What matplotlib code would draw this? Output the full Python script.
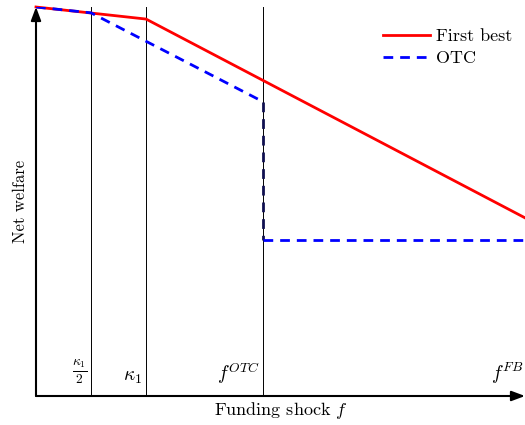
import numpy as np
import matplotlib
matplotlib.use("Agg")
import matplotlib.pyplot as plt

plt.rcParams['font.family'] = 'serif'
plt.rcParams['font.serif'] = ['cmr10', 'DejaVu Serif']
plt.rcParams['mathtext.fontset'] = 'cm'
plt.rcParams['axes.unicode_minus'] = False

# abscissa markers (funding shock f)
kappa_half = 1.125
kappa1 = 2.25
f_otc = 4.65
f_fb = 10.05
x_max = 10.0

# first best welfare
fb_x = [0.0, kappa1, x_max]
fb_y = [10.0, 9.69, 4.58]

# OTC welfare (before and after the jump at f^OTC)
otc_x = [0.0, kappa_half, f_otc]
otc_y = [10.0, 9.85, 7.56]
otc_low_x = [f_otc, x_max]
otc_low_y = [4.01, 4.01]

tick_pos = [kappa_half, kappa1, f_otc, f_fb]
tick_lab = [r'$\frac{\kappa_1}{2}$', r'$\kappa_1$', r'$f^{OTC}$', r'$f^{FB}$']

fig = plt.figure(figsize=(5.25, 4.25), dpi=100)
ax = fig.add_axes([36/525, 29/425, 489/525, 389/425])
ax.set_xlim(0, x_max)
ax.set_ylim(0, 10)
for s in ax.spines.values():
    s.set_visible(False)
ax.set_xticks([])
ax.set_yticks([])

# vertical guides
for xv in [kappa_half, kappa1, f_otc]:
    ax.plot([xv, xv], [0, 10], color='black', lw=0.7, zorder=1)

ax.plot(fb_x, fb_y, color='red', lw=2, label='First best', zorder=3, clip_on=False)
ax.plot(otc_x, otc_y, color='blue', lw=2, dashes=(3.5, 2.5), label='OTC', zorder=4)
ax.plot([f_otc, f_otc], [otc_y[-1], otc_low_y[0]], color='#101050', lw=2,
        dashes=(3.5, 2.5), zorder=4)
ax.plot(otc_low_x, otc_low_y, color='blue', lw=2, dashes=(3.5, 2.5), zorder=4, clip_on=False)

# axis arrows
arrow = dict(arrowstyle='-|>,head_length=0.8,head_width=0.3',
             color='black', lw=1.5, shrinkA=0, shrinkB=0)
ax.annotate('', xy=(0, 1.0), xytext=(0, 0), xycoords='axes fraction',
            arrowprops=arrow, annotation_clip=False)
ax.annotate('', xy=(1.0, 0), xytext=(0, 0), xycoords='axes fraction',
            arrowprops=arrow, annotation_clip=False)

# marker labels
for xp, lab in zip(tick_pos, tick_lab):
    ax.text(xp - 0.08, 0.25, lab, ha='right', va='bottom', fontsize=14, clip_on=False)

ax.set_xlabel(r'Funding shock $f$', fontsize=13, labelpad=3)
ax.set_ylabel('Net welfare', fontsize=12, labelpad=6)

ax.legend(loc='upper left', frameon=False, fontsize=13, handlelength=2.6,
          handletextpad=0.3, labelspacing=0.35, borderpad=0, borderaxespad=0,
          bbox_to_anchor=(0.71, 0.945))

fig.savefig('out.png', dpi=100)
